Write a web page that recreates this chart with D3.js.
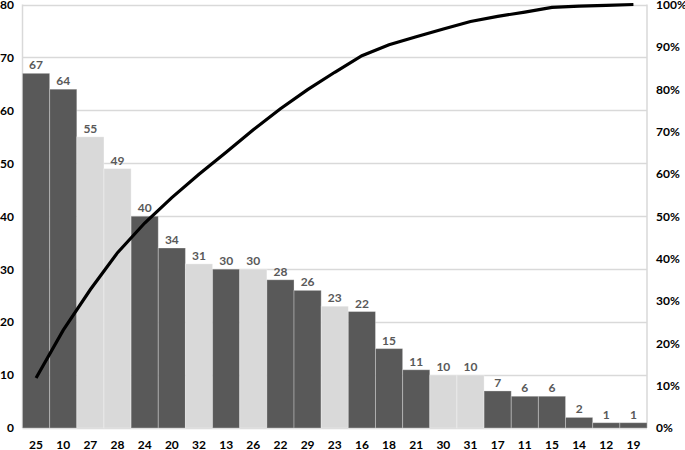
<!DOCTYPE html>
<html>
<head>
<meta charset="utf-8">
<script src="https://cdn.jsdelivr.net/npm/d3@7"></script>
<style>
  body { margin: 0; background: #fff; }
  text { font-family: Lato, "Liberation Sans", sans-serif; font-weight: bold; }
</style>
</head>
<body>
<div id="chart"></div>
<script>
const categories = ["25","10","27","28","24","20","32","13","26","22","29","23","16","18","21","30","31","17","11","15","14","12","19"]
const counts = [67,64,55,49,40,34,31,30,30,28,26,23,22,15,11,10,10,7,6,6,2,1,1]
const lightBars = ["27","28","32","26","23","30","31"]
const cumulative = [0.118,0.231,0.327,0.414,0.484,0.544,0.599,0.651,0.704,0.754,0.799,0.840,0.879,0.905,0.924,0.942,0.960,0.972,0.982,0.993,0.996,0.998,1.0]
const leftTicks = [0,10,20,30,40,50,60,70,80]
const rightTicks = [0,0.1,0.2,0.3,0.4,0.5,0.6,0.7,0.8,0.9,1.0]

const W = 685, H = 450
const plotL = 22.5, plotR = 647, plotT = 4.5, plotB = 428

const svg = d3.select("#chart").append("svg")
  .attr("width", W).attr("height", H)

const x = d3.scaleBand().domain(categories).range([plotL, plotR]).padding(0)
const y = d3.scaleLinear().domain([0, 80]).range([plotB, plotT])
const y2 = d3.scaleLinear().domain([0, 1]).range([plotB, plotT])

// gridlines
svg.append("g").selectAll("line")
  .data(leftTicks)
  .join("line")
    .attr("x1", plotL).attr("x2", plotR)
    .attr("y1", d => Math.round(y(d)) + 0.5).attr("y2", d => Math.round(y(d)) + 0.5)
    .attr("stroke", "#d9d9d9").attr("stroke-width", 1.5)

svg.append("line")
  .attr("x1", plotL).attr("x2", plotL).attr("y1", plotT).attr("y2", plotB)
  .attr("stroke", "#d9d9d9").attr("stroke-width", 1.5)
svg.append("line")
  .attr("x1", plotR).attr("x2", plotR).attr("y1", plotT).attr("y2", plotB)
  .attr("stroke", "#d9d9d9").attr("stroke-width", 1.5)

// bars
svg.append("g").selectAll("rect")
  .data(counts)
  .join("rect")
    .attr("x", (d, i) => x(categories[i]))
    .attr("y", d => y(d))
    .attr("width", x.bandwidth())
    .attr("height", d => plotB - y(d))
    .attr("fill", (d, i) => lightBars.includes(categories[i]) ? "#d9d9d9" : "#595959")
    .attr("stroke", "rgba(255,255,255,0.3)")
    .attr("stroke-width", 1)

// value labels
svg.append("g").selectAll("text")
  .data(counts)
  .join("text")
    .attr("x", (d, i) => x(categories[i]) + x.bandwidth() / 2)
    .attr("y", d => y(d) - 4)
    .attr("text-anchor", "middle")
    .attr("fill", "#595959")
    .style("font-size", "12px")
    .text(d => d)

// cumulative line
const line = d3.line()
  .x((d, i) => x(categories[i]) + x.bandwidth() / 2)
  .y(d => y2(d))

svg.append("path")
  .datum(cumulative)
  .attr("d", line)
  .attr("fill", "none")
  .attr("stroke", "#000")
  .attr("stroke-width", 3.2)

// axes labels
svg.append("g").selectAll("text")
  .data(leftTicks)
  .join("text")
    .attr("x", 14)
    .attr("y", d => y(d))
    .attr("dy", "0.36em")
    .attr("text-anchor", "end")
    .attr("fill", "#000")
    .style("font-size", "12px")
    .text(d => d)

svg.append("g").selectAll("text")
  .data(rightTicks)
  .join("text")
    .attr("x", 656)
    .attr("y", d => y2(d))
    .attr("dy", "0.36em")
    .attr("fill", "#000")
    .style("font-size", "12px")
    .text(d => d3.format(".0%")(d))

svg.append("g").selectAll("text")
  .data(categories)
  .join("text")
    .attr("x", d => x(d) + x.bandwidth() / 2)
    .attr("y", 445)
    .attr("dy", "0.36em")
    .attr("text-anchor", "middle")
    .attr("fill", "#000")
    .style("font-size", "12px")
    .text(d => d)
</script>
</body>
</html>
